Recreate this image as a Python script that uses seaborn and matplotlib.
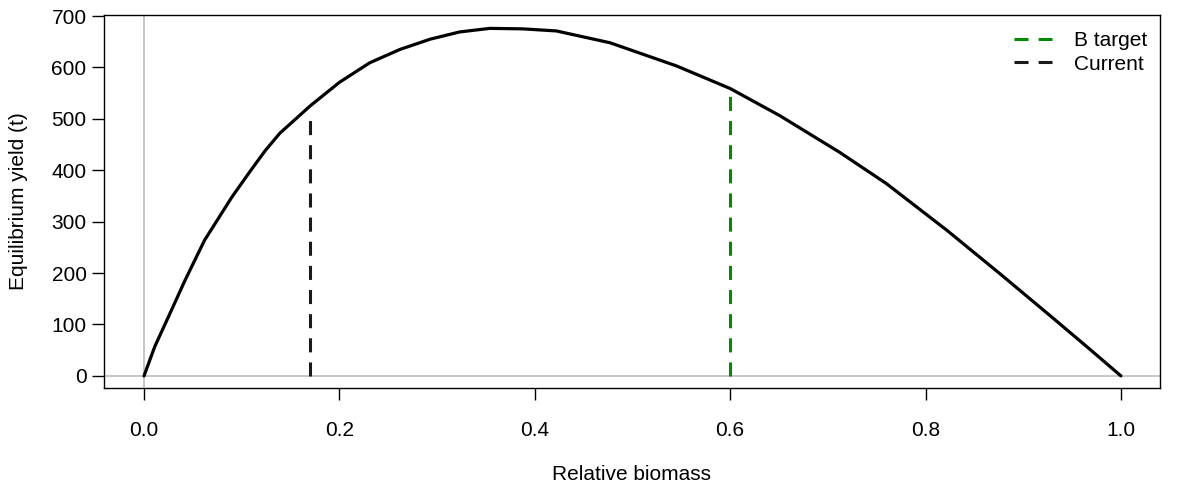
import matplotlib
matplotlib.use("Agg")
import matplotlib.pyplot as plt
import seaborn as sns
import pandas as pd
from matplotlib.lines import Line2D

# Data
biomass = [0.0, 0.011, 0.025, 0.042, 0.062, 0.09, 0.109, 0.124, 0.139, 0.17,
           0.2, 0.231, 0.262, 0.293, 0.323, 0.354, 0.388, 0.422, 0.477, 0.545,
           0.6, 0.651, 0.712, 0.76, 0.822, 0.876, 0.927, 0.965, 1.0]
yield_t = [0, 57, 115, 186, 264, 348, 399, 438, 472, 525,
           571, 609, 635, 655, 669, 676, 675, 671, 648, 603,
           559, 506, 435, 374, 283, 199, 118, 57, 0]

b_target = 0.6
b_target_top = 548
b_current = 0.17
b_current_top = 497

legend_labels = ["B target", "Current"]
xticks = [0.0, 0.2, 0.4, 0.6, 0.8, 1.0]
yticks = [0, 100, 200, 300, 400, 500, 600, 700]

sns.set_theme(style="ticks")
plt.rcParams['font.family'] = ['Liberation Sans', 'DejaVu Sans']
plt.rcParams['text.color'] = 'black'
plt.rcParams['axes.labelcolor'] = 'black'

fig = plt.figure(figsize=(11.95, 4.95), dpi=100)
ax = fig.add_axes([0.087, 0.2162, 0.8837, 0.7535])

green = "#008B00"
grey = "#BEBEBE"
dark = "#1a1a1a"
fs = 15
dash = (4.6, 3.3)

ax.axhline(0, color=grey, lw=1.2, zorder=1)
ax.axvline(0, color=grey, lw=1.2, zorder=1)

df = pd.DataFrame({"biomass": biomass, "yield": yield_t})
sns.lineplot(data=df, x="biomass", y="yield", color="black", lw=2.3, ax=ax,
             sort=False, zorder=3)

ax.plot([b_current, b_current], [0, b_current_top], color=dark, lw=2.2,
        dashes=dash, zorder=2)
ax.plot([b_target, b_target], [0, b_target_top], color=green, lw=2.2,
        dashes=dash, zorder=2)

ax.set_xlim(-0.041, 1.04)
ax.set_ylim(-23.5, 702)
ax.set_xticks(xticks)
ax.set_xticklabels([f"{t:.1f}" for t in xticks])
ax.set_yticks(yticks)
ax.set_yticklabels([str(t) for t in yticks])

for s in ax.spines.values():
    s.set_visible(True)
    s.set_color("black")
    s.set_linewidth(1.0)

ax.tick_params(axis="both", direction="out", length=8.5, width=1.0,
               colors="black", labelsize=fs)
ax.tick_params(axis="x", pad=15)
ax.tick_params(axis="y", pad=4)

ax.set_xlabel("Relative biomass", fontsize=fs, labelpad=18)
ax.set_ylabel("Equilibrium yield (t)", fontsize=fs, labelpad=17)

handles = [Line2D([0], [0], color=green, lw=2.2, dashes=dash),
           Line2D([0], [0], color=dark, lw=2.2, dashes=dash)]
ax.legend(handles, legend_labels, loc="upper right",
          bbox_to_anchor=(1.002, 0.995), frameon=False,
          fontsize=fs, handlelength=1.83, borderaxespad=0.3,
          labelspacing=0.2, handletextpad=1.05)

fig.savefig("out.png", dpi=100)
